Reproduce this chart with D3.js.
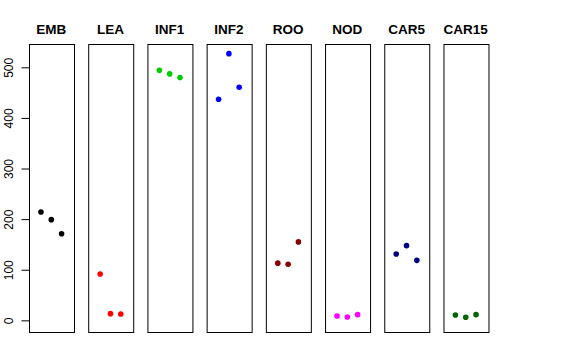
<!DOCTYPE html>
<html>
<head>
<meta charset="utf-8">
<script src="https://cdn.jsdelivr.net/npm/d3@7"></script>
<style>
  body { margin: 0; background: #fff; }
  text { font-family: "Liberation Sans", Arial, sans-serif; }
</style>
</head>
<body>
<script>
// tissues (one panel each)
var categories = ["EMB", "LEA", "INF1", "INF2", "ROO", "NOD", "CAR5", "CAR15"];
// three replicates per tissue
var rep1 = [214, 91.5, 494, 437, 113, 8.5, 131, 10.5];
var rep2 = [199, 13.2, 487, 527, 111, 6.5, 147.6, 6];
var rep3 = [171, 12.5, 480, 460.5, 155, 11.3, 118.6, 11.3];
var colors = ["#000000", "#FF0000", "#00CD00", "#0000FF", "#8B0000", "#FF00FF", "#000080", "#006400"];
var yTicks = [0, 100, 200, 300, 400, 500];

var svgWidth = 576, svgHeight = 360;

var svg = d3.select("body").append("svg")
  .attr("width", svgWidth)
  .attr("height", svgHeight);

// panel positions
var panel = d3.scaleBand()
  .domain(categories)
  .range([29, 488])
  .paddingInner(0.248)
  .paddingOuter(0);

// shared y scale, R style 4% padding on [0, 526]
var ylo = 0, yhi = 526, pad = 0.04 * (yhi - ylo);
var y = d3.scaleLinear()
  .domain([ylo - pad, yhi + pad])
  .range([331, 43.5]);

// x within a panel: replicates 1..3 on [0,4] with padding
var x = d3.scaleLinear()
  .domain([0 - 0.16, 4 + 0.16])
  .range([0, panel.bandwidth()]);

categories.forEach(function(cat, i) {
  var g = svg.append("g")
    .attr("transform", "translate(" + panel(cat) + ",0)");

  var pts = [rep1[i], rep2[i], rep3[i]];

  g.selectAll("circle")
    .data(pts)
    .enter().append("circle")
    .attr("cx", function(d, j) { return x(j + 1); })
    .attr("cy", function(d) { return y(d); })
    .attr("r", 2.8)
    .attr("fill", colors[i]);

  g.append("rect")
    .attr("x", 0.5)
    .attr("y", Math.round(y.range()[1]) + 0.5)
    .attr("width", Math.round(panel.bandwidth()))
    .attr("height", Math.round(y.range()[0] - y.range()[1]))
    .attr("fill", "none")
    .attr("stroke", "#000")
    .attr("stroke-width", 1);

  g.append("text")
    .attr("x", panel.bandwidth() / 2)
    .attr("y", 34)
    .attr("text-anchor", "middle")
    .style("font-size", "13.5px")
    .style("font-weight", "bold")
    .text(cat);

  // only the first panel gets the y axis
  if (i === 0) {
    var yAxis = d3.axisLeft(y)
      .tickValues(yTicks)
      .tickSize(8)
      .tickFormat(d3.format("d"));
    var ax = g.append("g")
      .attr("transform", "translate(0.5,0)")
      .call(yAxis);
    ax.select(".domain").remove();
    ax.selectAll(".tick text")
      .attr("transform", "rotate(-90)")
      .attr("x", 0)
      .attr("y", -17)
      .attr("dy", 0)
      .attr("text-anchor", "middle")
      .style("font-size", "12px")
      .style("font-family", "Liberation Sans, Arial, sans-serif")
      .attr("fill", "#000");
    ax.selectAll(".tick line").attr("stroke", "#000");
  }
});
</script>
</body>
</html>
